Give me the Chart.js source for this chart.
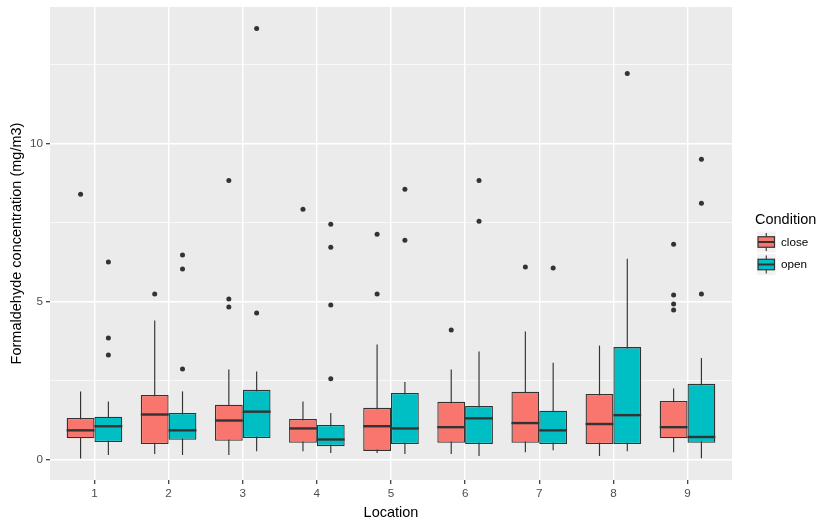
<!DOCTYPE html>
<html>
<head>
<meta charset="utf-8">
<script src="https://cdn.jsdelivr.net/npm/chart.js@4"></script>
<style>
html,body{margin:0;padding:0;background:#fff;}
#wrap{width:831px;height:524px;}
</style>
</head>
<body>
<div id="wrap"><canvas id="c" width="831" height="524"></canvas></div>
<script>
// ---- data ----
const locations = [1, 2, 3, 4, 5, 6, 7, 8, 9];
const seriesNames = ['close', 'open'];

const closeLowerWhisker = [0.04, 0.18, 0.15, 0.27, 0.21, 0.18, 0.24, 0.12, 0.24];
const closeQ1           = [0.68, 0.50, 0.60, 0.54, 0.28, 0.54, 0.54, 0.50, 0.68];
const closeMedian       = [0.93, 1.43, 1.24, 0.99, 1.06, 1.03, 1.16, 1.13, 1.03];
const closeQ3           = [1.32, 2.05, 1.74, 1.29, 1.64, 1.83, 2.15, 2.08, 1.86];
const closeUpperWhisker = [2.16, 4.40, 2.85, 1.84, 3.64, 2.85, 4.05, 3.61, 2.25];
const closeOutliers = [[8.39], [5.24], [8.83, 5.08, 4.83], [7.92], [7.13, 5.24], [4.10], [6.09], [], [6.81, 5.21, 4.92, 4.73]];

const openLowerWhisker = [0.15, 0.15, 0.27, 0.21, 0.18, 0.12, 0.30, 0.27, 0.05];
const openQ1           = [0.56, 0.63, 0.69, 0.43, 0.50, 0.50, 0.50, 0.50, 0.54];
const openMedian       = [1.06, 0.93, 1.52, 0.64, 0.99, 1.31, 0.93, 1.41, 0.72];
const openQ3           = [1.36, 1.48, 2.21, 1.10, 2.11, 1.70, 1.55, 3.56, 2.40];
const openUpperWhisker = [1.84, 2.16, 2.79, 1.48, 2.46, 3.42, 3.07, 6.35, 3.22];
const openOutliers = [[6.25, 3.85, 3.31], [6.47, 6.03, 2.87], [13.63, 4.64], [7.44, 6.72, 4.89, 2.56], [8.55, 6.94], [8.83, 7.54], [6.06], [12.21], [9.50, 8.11, 5.24]];

const yTickValues = [0, 5, 10];

// ---- styling ----
const FONT = '"Liberation Sans", Arial, sans-serif';
const COLORS = ['#F8766D', '#00BFC4'];
const OUTLINE = '#333333';
const GROUP_WIDTH = 0.75;                 // fraction of a category covered by the two boxes
const DODGE = GROUP_WIDTH / 4;            // centre offset of each box

const stats = [
  {lo: closeLowerWhisker, q1: closeQ1, med: closeMedian, q3: closeQ3, hi: closeUpperWhisker, out: closeOutliers},
  {lo: openLowerWhisker,  q1: openQ1,  med: openMedian,  q3: openQ3,  hi: openUpperWhisker,  out: openOutliers}
];

const boxDatasets = stats.map((s, k) => ({
  type: 'bar',
  label: seriesNames[k],
  data: locations.map((loc, i) => ({x: loc, y: [s.q1[i], s.q3[i]]})),
  backgroundColor: COLORS[k],
  borderColor: OUTLINE,
  borderWidth: 1.3,
  borderSkipped: false,
  categoryPercentage: GROUP_WIDTH,
  barPercentage: 1.0,
  order: 2
}));

const outlierDatasets = stats.map((s, k) => {
  const pts = [];
  locations.forEach((loc, i) => {
    s.out[i].forEach(v => pts.push({x: loc + (k === 0 ? -DODGE : DODGE), y: v}));
  });
  return {
    type: 'scatter',
    label: seriesNames[k] + ' outliers',
    data: pts,
    pointRadius: 2.5,
    pointBackgroundColor: OUTLINE,
    pointBorderWidth: 0,
    pointBorderColor: OUTLINE,
    order: 1
  };
});

const allY = [];
stats.forEach(s => { s.lo.forEach(v => allY.push(v)); s.hi.forEach(v => allY.push(v)); s.out.forEach(a => a.forEach(v => allY.push(v))); });
const yMinData = Math.min(...allY), yMaxData = Math.max(...allY);
const yPad = (yMaxData - yMinData) * 0.05;

const panelPlugin = {
  id: 'panel',
  beforeDraw(chart) {
    const {ctx, chartArea: a} = chart;
    ctx.save();
    ctx.fillStyle = '#ffffff';
    ctx.fillRect(0, 0, chart.width, chart.height);
    ctx.fillStyle = '#EBEBEB';
    ctx.fillRect(a.left, a.top, a.right - a.left, a.bottom - a.top);
    ctx.restore();
  },
  beforeDatasetsDraw(chart) {
    // whiskers (drawn behind the boxes)
    const {ctx} = chart;
    const yS = chart.scales.y;
    ctx.save();
    ctx.strokeStyle = OUTLINE;
    ctx.lineWidth = 1.15;
    stats.forEach((s, k) => {
      const meta = chart.getDatasetMeta(k);
      meta.data.forEach((bar, i) => {
        ctx.beginPath();
        ctx.moveTo(bar.x, yS.getPixelForValue(s.lo[i]));
        ctx.lineTo(bar.x, yS.getPixelForValue(s.hi[i]));
        ctx.stroke();
      });
    });
    ctx.restore();
  },
  afterDatasetsDraw(chart) {
    // medians
    const {ctx} = chart;
    const yS = chart.scales.y;
    ctx.save();
    ctx.strokeStyle = OUTLINE;
    ctx.lineWidth = 2.4;
    stats.forEach((s, k) => {
      const meta = chart.getDatasetMeta(k);
      meta.data.forEach((bar, i) => {
        const y = yS.getPixelForValue(s.med[i]);
        ctx.beginPath();
        ctx.moveTo(bar.x - bar.width / 2, y);
        ctx.lineTo(bar.x + bar.width / 2, y);
        ctx.stroke();
      });
    });
    ctx.restore();
  },
  afterDraw(chart) {
    // legend
    const {ctx} = chart;
    ctx.save();
    ctx.fillStyle = '#000';
    ctx.font = '14.5px ' + FONT;
    ctx.textBaseline = 'middle';
    ctx.textAlign = 'left';
    ctx.fillText('Condition', 755, 220);
    const kx = 757, kw = 18.5, kh = 21, gap = 1.5;
    seriesNames.forEach((name, k) => {
      const ky = 231.5 + k * (kh + gap);
      ctx.fillStyle = '#F2F2F2';
      ctx.fillRect(kx, ky, kw, kh);
      const cx = kx + kw / 2;
      ctx.strokeStyle = OUTLINE;
      ctx.lineWidth = 1.1;
      ctx.beginPath();
      ctx.moveTo(cx, ky + 1.5);
      ctx.lineTo(cx, ky + kh - 1.5);
      ctx.stroke();
      const bx = kx + 1, bw = kw - 2, by = ky + kh * 0.25, bh = kh * 0.5;
      ctx.fillStyle = COLORS[k];
      ctx.fillRect(bx, by, bw, bh);
      ctx.lineWidth = 1.2;
      ctx.strokeRect(bx, by, bw, bh);
      ctx.lineWidth = 2.0;
      ctx.beginPath();
      ctx.moveTo(bx, ky + kh / 2);
      ctx.lineTo(bx + bw, ky + kh / 2);
      ctx.stroke();
      ctx.fillStyle = '#000';
      ctx.font = '11.7px ' + FONT;
      ctx.fillText(name, 781, ky + kh / 2 + 0.5);
    });
    ctx.restore();
  }
};

new Chart(document.getElementById('c'), {
  type: 'bar',
  data: {datasets: [...boxDatasets, ...outlierDatasets]},
  plugins: [panelPlugin],
  options: {
    responsive: false,
    animation: false,
    layout: {padding: {left: 0, top: 7, right: 99, bottom: 0}},
    plugins: {legend: {display: false}, tooltip: {enabled: false}, title: {display: false}},
    scales: {
      x: {
        type: 'linear',
        min: locations[0] - 0.6,
        max: locations[locations.length - 1] + 0.6,
        offset: false,
        grid: {offset: false, color: '#ffffff', lineWidth: 1.4, tickColor: OUTLINE, tickLength: 4, tickWidth: 1.2},
        border: {display: false},
        ticks: {
          stepSize: 1, includeBounds: false, autoSkip: false, maxRotation: 0,
          color: '#4D4D4D', font: {family: FONT, size: 11.7}, padding: 3,
          callback: v => (locations.includes(v) ? String(v) : '')
        },
        title: {display: true, text: 'Location', color: '#000', font: {family: FONT, size: 14.5}, padding: {top: 0, bottom: 2}},
        afterFit: s => { s.height = 44; s.paddingLeft = 0; s.paddingRight = 0; }
      },
      y: {
        type: 'linear',
        min: yMinData - yPad,
        max: yMaxData + yPad,
        grid: {
          color: '#ffffff',
          lineWidth: c => (c.tick && yTickValues.includes(c.tick.value) ? 1.4 : 0.7),
          tickColor: c => (c.tick && yTickValues.includes(c.tick.value) ? OUTLINE : 'rgba(0,0,0,0)'),
          tickLength: 4, tickWidth: 1.2
        },
        border: {display: false},
        ticks: {
          stepSize: 2.5, includeBounds: false, autoSkip: false,
          color: '#4D4D4D', font: {family: FONT, size: 11.7}, padding: 3,
          callback: v => (yTickValues.includes(v) ? String(v) : '')
        },
        title: {display: true, text: 'Formaldehyde concentration (mg/m3)', color: '#000', font: {family: FONT, size: 14.5}, padding: {top: 8, bottom: 0}},
        afterFit: s => { s.width = 50; s.paddingTop = 0; s.paddingBottom = 0; }
      }
    }
  }
});
</script>
</body>
</html>
